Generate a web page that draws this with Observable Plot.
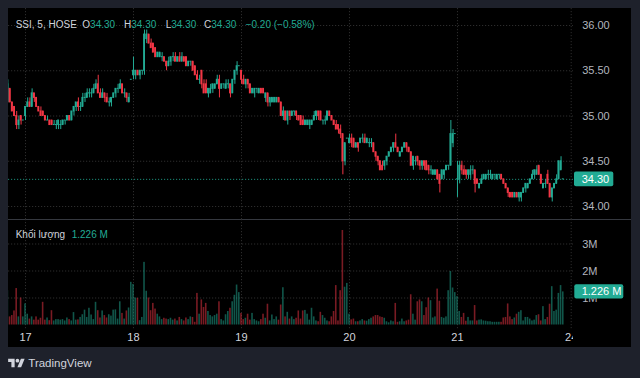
<!DOCTYPE html>
<html><head><meta charset="utf-8">
<script src="https://cdn.jsdelivr.net/npm/d3@7"></script>
<script src="https://cdn.jsdelivr.net/npm/@observablehq/plot@0.6"></script>
<style>
html,body{margin:0;padding:0;background:#1e212b;width:640px;height:378px;overflow:hidden;font-family:"Liberation Sans",Arial,sans-serif;}
#panel{position:absolute;left:8px;top:8px;width:623px;height:339px;background:#000;overflow:hidden;}
#panel svg{position:absolute;left:0;display:block;}
.sep{position:absolute;left:0;top:211px;width:623px;height:1px;background:#35383f;}
.hdr{position:absolute;font-size:10px;line-height:12px;white-space:nowrap;color:#d1d4dc;}
.t{color:#22ab94;}
#brand{position:absolute;left:28.3px;top:356px;font-size:11.5px;line-height:14px;color:#d1d4dc;}
#logo{position:absolute;left:8px;top:357px;}
</style></head>
<body>
<div id="panel">
  <div class="sep"></div>
</div>
<svg id="logo" width="17" height="13" viewBox="0 0 36 28"><path fill="#d1d4dc" d="M14 22H7V11H0V4h14v18zM28 22h-8l7.5-18h8L28 22z"/><circle fill="#d1d4dc" cx="20" cy="8" r="4"/></svg>
<div id="brand">TradingView</div>
<script>
// ---- data: SSI 5-minute bars (16..21) ----
const opens = [
 35.15,35.30,35.15,35.10,35.00,34.90,35.00,34.95,
 35.00,35.10,35.15,35.10,35.25,35.20,35.10,35.05,35.05,35.00,
 34.95,34.95,34.95,34.90,34.90,34.90,34.90,34.90,34.95,34.95,
 35.00,34.95,35.05,35.10,35.15,35.10,35.10,35.20,35.20,35.25,
 35.25,35.25,35.30,35.35,35.25,35.20,35.25,35.20,35.15,35.15,
 35.20,35.25,35.30,35.30,35.35,35.25,35.25,35.15,35.40,
 35.45,35.45,35.50,35.45,35.50,35.50,35.85,35.90,35.80,35.80,
 35.75,35.65,35.65,35.65,35.65,35.60,35.55,35.60,35.65,35.65,
 35.60,35.65,35.60,35.65,35.65,35.55,35.60,35.60,35.55,35.45,
 35.40,35.50,35.35,35.35,35.25,35.25,35.30,35.30,35.35,35.40,
 35.30,35.35,35.30,35.35,35.35,35.25,35.40,35.50,35.55,
 35.50,35.40,35.35,35.40,35.35,35.25,35.25,35.30,35.25,35.30,
 35.30,35.20,35.25,35.15,35.15,35.15,35.15,35.20,35.15,35.00,
 35.05,34.95,35.05,35.00,35.05,35.05,35.00,35.00,34.95,34.90,
 34.90,34.90,34.90,34.95,35.00,35.05,35.05,34.95,34.95,34.95,
 35.05,35.00,34.95,34.90,34.90,34.85,34.80,34.50,34.75,
 34.70,34.75,34.75,34.65,34.70,34.70,34.75,34.75,34.70,34.70,
 34.70,34.70,34.60,34.55,34.50,34.45,34.45,34.50,34.55,34.60,
 34.65,34.70,34.65,34.55,34.60,34.65,34.70,34.65,34.60,34.45,
 34.50,34.55,34.50,34.45,34.50,34.50,34.45,34.40,34.35,34.35,
 34.40,34.35,34.30,34.35,34.40,34.45,34.45,34.70,34.80,
 34.30,34.30,34.45,34.40,34.40,34.35,34.35,34.40,34.40,34.30,
 34.20,34.25,34.30,34.30,34.35,34.35,34.30,34.35,34.30,34.35,
 34.35,34.30,34.25,34.20,34.15,34.15,34.10,34.15,34.10,34.10,
 34.15,34.20,34.20,34.25,34.30,34.35,34.35,34.45,34.35,34.20,
 34.25,34.35,34.25,34.10,34.20,34.25,34.30,34.40,34.30
];
const highs = [
 35.40,35.30,35.15,35.10,35.05,35.00,35.00,34.95,
 35.10,35.20,35.20,35.30,35.25,35.20,35.10,35.10,35.05,35.00,
 35.00,34.95,34.95,34.95,34.95,34.95,34.95,34.95,34.95,35.00,
 35.00,35.05,35.10,35.15,35.20,35.15,35.25,35.25,35.30,35.30,
 35.30,35.35,35.40,35.45,35.30,35.30,35.25,35.25,35.20,35.20,
 35.25,35.30,35.35,35.40,35.35,35.30,35.25,35.25,35.40,
 35.65,35.50,35.50,35.50,35.50,35.95,35.95,35.90,35.85,35.80,
 35.75,35.70,35.70,35.70,35.65,35.60,35.65,35.65,35.70,35.70,
 35.65,35.70,35.70,35.65,35.65,35.60,35.60,35.60,35.55,35.50,
 35.45,35.50,35.40,35.40,35.30,35.35,35.35,35.35,35.45,35.45,
 35.35,35.35,35.40,35.40,35.35,35.40,35.50,35.60,35.55,
 35.50,35.45,35.40,35.40,35.35,35.30,35.30,35.30,35.30,35.30,
 35.30,35.25,35.25,35.20,35.20,35.20,35.20,35.20,35.15,35.10,
 35.05,35.05,35.05,35.05,35.05,35.05,35.00,35.00,35.00,34.95,
 34.95,34.95,34.95,35.05,35.05,35.05,35.05,34.95,35.00,35.05,
 35.05,35.00,34.95,34.95,34.90,34.90,34.80,34.70,34.75,
 34.80,34.80,34.75,34.70,34.70,34.75,34.80,34.80,34.75,34.75,
 34.75,34.70,34.60,34.55,34.50,34.50,34.50,34.55,34.60,34.65,
 34.70,34.80,34.65,34.60,34.65,34.70,34.70,34.65,34.60,34.55,
 34.55,34.55,34.50,34.50,34.50,34.50,34.45,34.45,34.40,34.40,
 34.40,34.35,34.40,34.40,34.45,34.45,34.95,34.85,34.80,
 34.50,34.50,34.50,34.45,34.40,34.40,34.45,34.45,34.40,34.30,
 34.25,34.35,34.35,34.35,34.40,34.40,34.35,34.35,34.35,34.35,
 34.35,34.30,34.25,34.20,34.15,34.15,34.15,34.15,34.15,34.15,
 34.20,34.25,34.25,34.30,34.40,34.40,34.45,34.45,34.35,34.25,
 34.30,34.40,34.25,34.20,34.25,34.35,34.50,34.55,34.30
];
const lows = [
 35.15,35.15,35.05,35.00,34.85,34.85,34.90,34.95,
 34.95,35.10,35.10,35.10,35.15,35.10,35.05,35.00,35.00,34.95,
 34.95,34.90,34.90,34.90,34.85,34.85,34.85,34.90,34.90,34.95,
 34.95,34.95,35.00,35.05,35.05,35.05,35.10,35.15,35.20,35.20,
 35.20,35.25,35.30,35.25,35.20,35.20,35.15,35.15,35.10,35.10,
 35.20,35.20,35.25,35.30,35.25,35.20,35.15,35.15,35.40,
 35.40,35.40,35.45,35.40,35.45,35.45,35.80,35.80,35.75,35.70,
 35.65,35.65,35.65,35.60,35.60,35.50,35.55,35.55,35.60,35.60,
 35.60,35.60,35.60,35.60,35.55,35.55,35.55,35.50,35.45,35.40,
 35.35,35.30,35.25,35.25,35.20,35.25,35.25,35.30,35.35,35.20,
 35.30,35.30,35.30,35.30,35.20,35.25,35.35,35.45,35.55,
 35.35,35.35,35.30,35.30,35.25,35.25,35.20,35.25,35.25,35.25,
 35.25,35.15,35.10,35.10,35.15,35.15,35.15,35.15,35.00,34.95,
 34.95,34.90,34.95,35.00,35.00,34.95,34.95,34.90,34.90,34.90,
 34.90,34.85,34.90,34.95,34.95,34.95,34.95,34.90,34.90,34.95,
 35.00,34.95,34.90,34.85,34.80,34.75,34.35,34.45,34.75,
 34.70,34.65,34.65,34.65,34.60,34.70,34.70,34.70,34.70,34.65,
 34.65,34.60,34.50,34.45,34.40,34.40,34.40,34.45,34.55,34.60,
 34.60,34.65,34.60,34.55,34.60,34.65,34.60,34.60,34.45,34.40,
 34.45,34.45,34.40,34.40,34.40,34.40,34.35,34.35,34.35,34.35,
 34.30,34.15,34.30,34.30,34.40,34.40,34.45,34.65,34.80,
 34.10,34.25,34.35,34.35,34.30,34.30,34.30,34.35,34.15,34.25,
 34.20,34.25,34.30,34.30,34.30,34.30,34.30,34.30,34.30,34.30,
 34.30,34.25,34.20,34.10,34.10,34.10,34.10,34.10,34.05,34.05,
 34.15,34.15,34.20,34.25,34.30,34.30,34.35,34.35,34.25,34.20,
 34.20,34.25,34.10,34.05,34.20,34.25,34.30,34.40,34.30
];
const closes = [
 35.35,35.15,35.05,35.00,34.90,34.95,34.95,34.95,
 35.10,35.15,35.10,35.25,35.20,35.10,35.05,35.00,35.00,34.95,
 34.95,34.90,34.90,34.90,34.90,34.95,34.90,34.95,34.95,35.00,
 34.95,35.05,35.10,35.15,35.10,35.10,35.20,35.20,35.25,35.25,
 35.25,35.30,35.35,35.25,35.20,35.25,35.20,35.15,35.15,35.20,
 35.25,35.30,35.30,35.35,35.25,35.25,35.20,35.20,35.40,
 35.50,35.50,35.45,35.50,35.50,35.90,35.90,35.80,35.75,35.70,
 35.65,35.70,35.70,35.65,35.60,35.55,35.60,35.65,35.65,35.60,
 35.65,35.60,35.65,35.60,35.55,35.60,35.60,35.50,35.45,35.40,
 35.40,35.35,35.25,35.25,35.30,35.30,35.35,35.35,35.40,35.30,
 35.35,35.35,35.35,35.35,35.25,35.40,35.50,35.55,35.55,
 35.40,35.35,35.40,35.35,35.25,35.30,35.30,35.30,35.30,35.25,
 35.25,35.25,35.15,35.20,35.20,35.20,35.20,35.15,35.00,35.05,
 34.95,35.05,35.00,35.05,35.05,35.00,34.95,34.90,34.90,34.95,
 34.95,34.95,34.95,35.00,35.05,35.00,34.95,34.95,34.95,35.05,
 35.00,34.95,34.90,34.85,34.85,34.80,34.50,34.70,34.75,
 34.75,34.70,34.65,34.70,34.65,34.75,34.75,34.70,34.75,34.70,
 34.70,34.60,34.55,34.50,34.40,34.40,34.50,34.55,34.60,34.65,
 34.70,34.65,34.60,34.60,34.65,34.70,34.65,34.60,34.45,34.55,
 34.50,34.50,34.45,34.50,34.45,34.40,34.40,34.40,34.40,34.40,
 34.30,34.25,34.40,34.40,34.45,34.45,34.80,34.80,34.80,
 34.30,34.45,34.40,34.35,34.35,34.40,34.40,34.40,34.25,34.25,
 34.25,34.30,34.35,34.35,34.35,34.35,34.35,34.35,34.35,34.35,
 34.30,34.25,34.20,34.15,34.10,34.10,34.15,34.10,34.15,34.15,
 34.20,34.25,34.25,34.30,34.35,34.40,34.40,34.35,34.25,34.25,
 34.25,34.25,34.10,34.20,34.25,34.30,34.50,34.50,34.30
];
// volume in millions of shares
const volumes = [
 1.27,0.30,0.35,0.52,1.35,0.30,1.00,0.30,
 0.78,0.40,0.22,0.30,0.18,0.30,0.18,0.25,0.84,0.18,
 0.26,0.16,0.53,0.15,0.20,0.20,0.18,0.20,0.15,0.26,
 0.20,0.15,0.46,0.18,0.19,0.28,0.38,0.55,0.28,0.62,
 0.37,0.20,0.84,0.53,0.26,0.52,0.35,0.26,0.38,0.33,
 0.55,0.56,0.22,0.86,0.43,0.22,0.52,0.63,1.58,
 1.50,1.00,0.99,0.16,0.28,2.32,1.25,1.00,0.53,0.80,
 0.59,0.40,0.30,0.20,0.25,0.22,0.20,0.25,0.18,0.22,
 0.15,0.28,0.20,0.15,0.26,0.20,0.30,0.28,0.10,1.17,
 0.40,0.93,0.65,0.80,0.50,0.35,0.30,0.35,0.40,0.86,
 0.20,0.15,0.38,0.50,0.62,0.86,1.10,1.48,1.20,
 0.43,0.20,0.25,0.40,0.18,0.43,0.20,0.15,0.12,0.20,
 0.40,0.25,0.77,0.15,0.37,0.20,0.30,0.18,0.74,1.38,
 0.30,0.47,0.22,0.30,0.20,0.25,0.52,0.22,0.52,0.54,
 0.40,0.18,0.62,0.30,0.15,0.12,0.47,0.35,0.25,0.15,
 0.12,0.30,0.50,1.46,0.15,1.27,3.50,1.40,1.54,
 0.40,0.19,0.22,0.12,0.12,0.15,0.20,0.15,0.14,0.20,
 0.25,0.30,0.35,0.35,0.30,0.28,0.25,0.12,0.08,0.15,
 0.12,0.80,0.10,0.12,0.22,0.12,0.15,0.18,1.12,0.40,
 0.18,0.86,0.93,0.86,0.35,0.64,1.00,0.90,0.26,0.30,
 1.33,0.88,0.28,0.25,0.30,1.27,1.98,1.37,1.20,
 1.05,0.50,0.28,0.43,0.14,0.28,0.15,0.15,0.72,0.15,
 0.18,0.19,0.15,0.14,0.12,0.12,0.10,0.10,0.10,0.10,
 0.10,0.26,0.28,0.78,0.30,0.20,0.26,0.40,0.47,0.53,
 0.15,0.28,0.28,0.22,0.15,0.18,0.35,0.38,0.15,0.68,
 0.20,0.28,0.77,1.42,0.50,0.55,1.17,1.46,1.226
];
const dayLabels = ["17","18","19","20","21","24"];
const dayStarts = [8, 57, 106, 155, 204, 255.6];   // bar index where each day starts on the time axis
const priceTicks = [34, 34.5, 35, 35.5, 36];
const volTicks = [1, 2, 3];
const volTickLabels = ["1M","2M","3M"];
const symbolInfo = {name:"SSI, 5, HOSE", volName:"Khối lượng"};

// ---- build ----
const UP = "#22ab94", DN = "#f23645";
const VUP = "rgba(34,171,148,0.5)", VDN = "rgba(242,54,69,0.5)";
const GRID = "#2c2c2c";
const bars = closes.map((c, i) => ({i, o: opens[i], h: highs[i], l: lows[i], c, v: volumes[i], up: c >= opens[i]}));
const last = bars[bars.length - 1];
const prev = bars[bars.length - 2];
const fmt = d3.format(".2f");

const style = {background: "transparent", fontFamily: "'Liberation Sans', Arial, sans-serif", fontSize: "11px", overflow: "hidden"};
const xScale = {domain: [8, 255.6], range: [17, 562.7], axis: null};

const price = Plot.plot({
  width: 623, height: 211,
  marginLeft: 0, marginRight: 58, marginTop: 0, marginBottom: 0,
  style,
  x: xScale,
  y: {domain: [34, 36], range: [198, 17], axis: null},
  color: {type: "identity"},
  marks: [
    Plot.ruleY(priceTicks, {stroke: GRID, strokeDasharray: "1.2,1.8"}),
    Plot.ruleX(dayStarts, {stroke: GRID, strokeDasharray: "1.2,1.8"}),
    Plot.ruleY([last.c], {stroke: UP, strokeDasharray: "1.2,1.8", strokeOpacity: 0.8}),
    Plot.ruleX(bars, {x: "i", y1: "l", y2: "h", stroke: d => d.up ? UP : DN, strokeWidth: 1}),
    Plot.rect(bars, {x1: d => d.i - 0.42, x2: d => d.i + 0.42, y1: "o", y2: "c", fill: d => d.up ? UP : DN, insetTop: -0.5, insetBottom: -0.5}),
    Plot.text(priceTicks, {y: d => d, text: d => fmt(d), frameAnchor: "right", textAnchor: "start", dx: 8.7, fill: "#b2b5be", fontSize: 11})
  ]
});
price.style.top = "0px";

// last price label
{
  const ys = price.scale("y");
  const yy = ys.apply(last.c);
  const g = d3.select(price).append("g").attr("text-anchor", "start");
  g.append("rect").attr("x", 566).attr("y", yy - 7.3).attr("width", 39.3).attr("height", 14.6).attr("rx", 2).attr("fill", UP);
  g.append("text").attr("x", 573.7).attr("y", yy).attr("dy", "0.36em").attr("text-anchor", "start").attr("fill", "#ffffff").attr("font-size", 11).text(fmt(last.c));
}

const vol = Plot.plot({
  width: 623, height: 128,
  marginLeft: 0, marginRight: 58, marginTop: 0, marginBottom: 17,
  style,
  x: xScale,
  y: {domain: [0, 3], range: [105.5, 24.5], axis: null},
  color: {type: "identity"},
  marks: [
    Plot.ruleY(volTicks, {stroke: GRID, strokeDasharray: "1.2,1.8"}),
    Plot.ruleX(dayStarts, {stroke: GRID, strokeDasharray: "1.2,1.8"}),
    Plot.rect(bars, {x1: d => d.i - 0.36, x2: d => d.i + 0.36, y1: 0, y2: "v", fill: d => d.up ? VUP : VDN}),
    Plot.text(volTicks, {y: d => d, text: (d, i) => volTickLabels[i], frameAnchor: "right", textAnchor: "start", dx: 8.7, fill: "#b2b5be", fontSize: 11})
  ]
});
vol.style.top = "211px";
{
  const ys = vol.scale("y");
  const yy = ys.apply(last.v);
  const g = d3.select(vol).append("g").attr("text-anchor", "start");
  g.append("rect").attr("x", 566.3).attr("y", yy - 7.2).attr("width", 49).attr("height", 14.4).attr("rx", 2).attr("fill", UP);
  g.append("text").attr("x", 573.7).attr("y", yy).attr("dy", "0.36em").attr("text-anchor", "start").attr("fill", "#ffffff").attr("font-size", 11).text(d3.format(".3f")(last.v) + " M");
}

const timeAxis = Plot.plot({
  width: 623, height: 17,
  marginLeft: 0, marginRight: 58, marginTop: 0, marginBottom: 0,
  style,
  x: xScale,
  y: {axis: null},
  marks: [
    Plot.text(dayStarts, {x: d => d, text: (d, i) => dayLabels[i], frameAnchor: "middle", dy: -1.2, fill: "#d1d4dc", fontSize: 11, clip: true})
  ]
});
timeAxis.style.top = "322px";

const panel = document.getElementById("panel");
panel.appendChild(price);
panel.appendChild(vol);
panel.appendChild(timeAxis);

// header legend
function addHdr(left, top, html) {
  const d = document.createElement("div");
  d.className = "hdr";
  d.style.left = left + "px";
  d.style.top = top + "px";
  d.innerHTML = html;
  panel.appendChild(d);
}
const chg = last.c - prev.c;
const pct = chg / prev.c * 100;
const sgn = v => (v < 0 ? "\u2212" : "+") + Math.abs(v).toFixed(2);
addHdr(7.7, 10.5, symbolInfo.name);
addHdr(74.3, 10.5, `O<span class="t">${fmt(last.o)}</span>`);
addHdr(116, 10.5, `H<span class="t">${fmt(last.h)}</span>`);
addHdr(157.7, 10.5, `L<span class="t">${fmt(last.l)}</span>`);
addHdr(196, 10.5, `C<span class="t">${fmt(last.c)}</span>`);
addHdr(237.7, 10.5, `<span class="t">${sgn(chg)} (${sgn(pct)}%)</span>`);
addHdr(7.7, 220.7, symbolInfo.volName);
addHdr(63.7, 220.7, `<span class="t">${d3.format(".3f")(last.v)} M</span>`);
</script>
</body></html>
